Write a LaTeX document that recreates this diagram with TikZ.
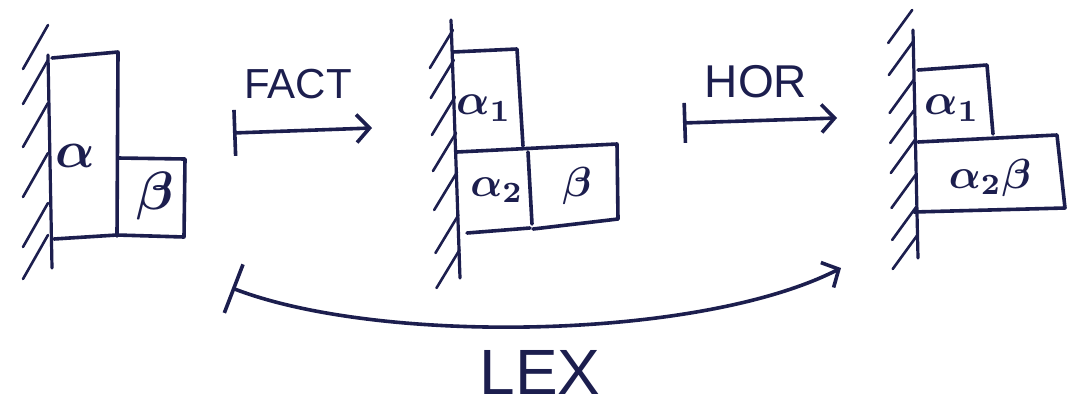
\documentclass[tikz,border=0pt]{standalone}
\usepackage{fontspec}
\usepackage{bm}
\setmainfont{Liberation Sans}
\usetikzlibrary{arrows.meta}
\definecolor{ink}{RGB}{28,30,78}
% Greek labels: bold 10pt math enlarged by a factor
\newcommand{\bigsym}[2]{\scalebox{#1}{$\bm{#2}$}}
\begin{document}
\begin{tikzpicture}[x=1pt,y=-1pt,
  pen/.style={draw=ink,line width=3.6pt,line cap=round,line join=round},
  hatch/.style={draw=ink,line width=2.6pt,line cap=round},
  wall/.style={draw=ink,line width=3.2pt,line cap=round},
  greek/.style={text=ink,inner sep=0pt},
  caption/.style={text=ink,inner sep=0pt,font=\fontsize{#1}{#1}\selectfont},
  move/.style={pen,{Bar[width=#1]}-{Straight Barb[length=13pt,width=28pt]}}]

\useasboundingbox[fill=white] (0,0) rectangle (1077,413);

% ---- state 1: tall alpha block with beta beside it
\draw[wall] (48,55) -- (52,268);
\foreach \t in {25,60,103,153,203,235}
  \draw[hatch] (48,\t) -- ++(-25,44);
\draw[pen] (52,58) -- (118,52) -- (117,236);
\draw[pen] (54,239) -- (117,235);
\draw[pen] (118,158) -- (185,159) -- (184,237) -- (117,235);
\node[greek] (a) at (75,156) {\bigsym{5.2}{\alpha}};
\node[greek] (b) at (155,196) {\bigsym{5.4}{\beta}};

% ---- state 2: alpha split into alpha1 / alpha2
\draw[wall] (451,20) -- (460,278);
\foreach \t in {30,60,97,133,172,215,250}
  \draw[hatch] (452+\t*0.03,\t) -- ++(-23,38);
\draw[pen] (453,52) -- (517,49) -- (523,146);
\draw[pen] (457,152) -- (617,144) -- (618,219);
\draw[pen] (528,152) -- (532,224);
\draw[pen] (467,233) -- (530,228);
\draw[pen] (533,229) -- (618,219);
\node[greek] (a1) at (484,108) {\bigsym{4.4}{\alpha_1}};
\node[greek] (a2) at (497,190) {\bigsym{4.2}{\alpha_2}};
\node[greek] (b2) at (577,186) {\bigsym{4.2}{\beta}};

% ---- state 3: alpha2 merged with beta
\draw[wall] (913,30) -- (918,258);
\foreach \t in {10,42,80,110,140,175,207,236}
  \draw[hatch] (912+\t*0.02,\t) -- ++(-24,33);
\draw[pen] (918,70) -- (987,65) -- (993,134);
\draw[pen] (918,142) -- (1057,135) -- (1065,208) -- (914,212);
\node[greek] (a31) at (952,108) {\bigsym{4.4}{\alpha_1}};
\node[greek] (a3b) at (990,178) {\bigsym{4.2}{\alpha_2\beta}};

% ---- transitions
\coordinate (f0) at (233,133);
\coordinate (f1) at (372,128);
\coordinate (h0) at (683,123);
\coordinate (h1) at (837,118);
\coordinate (l0) at (232,288);
\coordinate (l1) at (841,268);
\draw[move=46pt] (f0) -- (f1);
\draw[move=40pt] (h0) -- (h1);
\draw[move=52pt] (l0) .. controls (380,345) and (700,340) .. (l1);
\node[caption=42pt] (fact) at (298,84) {FACT};
\node[caption=46pt] (hor) at (756,82) {HOR};
\node[caption=64pt] (lex) at (540,372) {LEX};
\end{tikzpicture}
\end{document}
